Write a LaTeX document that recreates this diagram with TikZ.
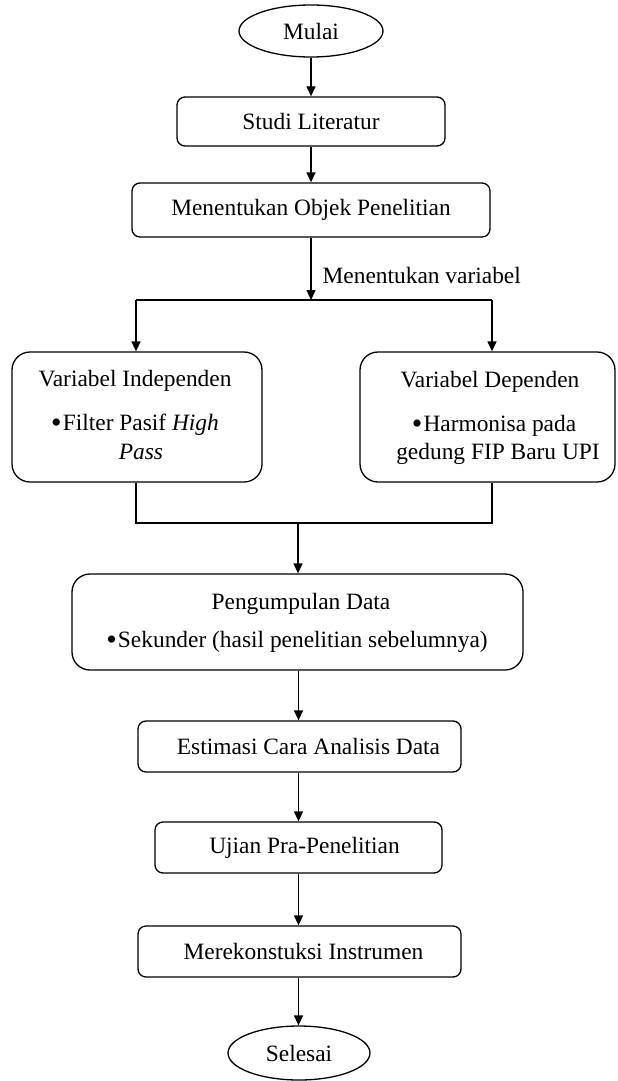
\documentclass[tikz,border=0pt]{standalone}
\usepackage{fontspec}
\setmainfont{Liberation Serif}
\usetikzlibrary{arrows.meta,shapes.geometric}
\newcommand{\bul}{\raisebox{-1.1pt}{\fontsize{15}{15}\selectfont •}\kern0.6pt}
\begin{document}
\begin{tikzpicture}[x=0.5pt,y=-0.5pt,
  font=\fontsize{11.7}{14}\selectfont,
  line width=0.65pt,
  arr/.style={-{Triangle[length=5pt,width=4.5pt]}},
  term/.style={draw, ellipse, inner sep=0pt},
  proc/.style={draw, rounded corners=4pt, inner sep=0pt},
  bigbox/.style={draw, rounded corners=9pt, inner sep=0pt},
  txt/.style={inner sep=0pt, anchor=base}]
\useasboundingbox (0,0) rectangle (617,1081);
% terminals and process boxes
\node[term, minimum width=72pt, minimum height=26pt] (mulai) at (311,31) {Mulai};
\node[proc, minimum width=134pt, minimum height=24.5pt] (studi) at (311,121.5) {Studi Literatur};
\node[proc, minimum width=179pt, minimum height=27pt] (objek) at (311,210) {Menentukan Objek Penelitian};
\node[bigbox, minimum width=125pt, minimum height=65pt] (indep) at (137,417) {};
\node[bigbox, minimum width=127.5pt, minimum height=65pt] (dep) at (487.5,417) {};
\node[bigbox, minimum width=225.5pt, minimum height=48pt] (data) at (297.5,622) {};
\node[proc, minimum width=161.5pt, minimum height=25.5pt] (est) at (299.5,746.5) {\hspace{9pt}Estimasi Cara Analisis Data};
\node[proc, minimum width=143.5pt, minimum height=25.5pt] (ujian) at (298.5,847.5) {\hspace{6pt}Ujian Pra-Penelitian};
\node[proc, minimum width=161.5pt, minimum height=25.5pt] (rekon) at (299.5,951.5) {\hspace{4pt}Merekonstuksi Instrumen};
\node[term, minimum width=71pt, minimum height=27pt] (selesai) at (299,1053) {Selesai};
% texts inside the big boxes
\node[txt] (indepT) at (135,386) {Variabel Independen};
\node[txt] (indepB) at (135,430) {\bul Filter Pasif \textit{High}};
\node[txt] (indepC) at (141,459) {\textit{Pass}};
\node[txt] (depT) at (490,387) {Variabel Dependen};
\node[txt] (depB) at (494,431) {\bul Harmonisa pada};
\node[txt] (depC) at (498,459) {gedung FIP Baru UPI};
\node[txt] (dataT) at (301,609) {Pengumpulan Data};
\node[txt] (dataB) at (297,647) {\bul Sekunder (hasil penelitian sebelumnya)};
% label
\node[inner sep=0pt, anchor=west] (lbl) at (322,275) {Menentukan variabel};
% connectors
\draw[arr] (mulai) -- (studi);
\draw[arr] (studi) -- (objek);
\coordinate (split) at (311,300);
\coordinate (hl) at (136,300);
\coordinate (hr) at (492,300);
\draw[arr] (objek) -- (split);
\draw (hl) -- (hr);
\draw[arr] (hl) -- (hl |- indep.north);
\draw[arr] (hr) -- (hr |- dep.north);
\coordinate (jl) at (136,523);
\coordinate (jr) at (492,523);
\coordinate (jm) at (298,523);
\draw (jl |- indep.south) -- (jl) -- (jr) -- (jr |- dep.south);
\draw[arr] (jm) -- (jm |- data.north);
\coordinate (ax) at (298.5,0);
\draw[arr] (ax |- data.south) -- (ax |- est.north);
\draw[arr] (ax |- est.south) -- (ax |- ujian.north);
\draw[arr] (ax |- ujian.south) -- (ax |- rekon.north);
\draw[arr] (ax |- rekon.south) -- (ax |- selesai.north);
\end{tikzpicture}
\end{document}
